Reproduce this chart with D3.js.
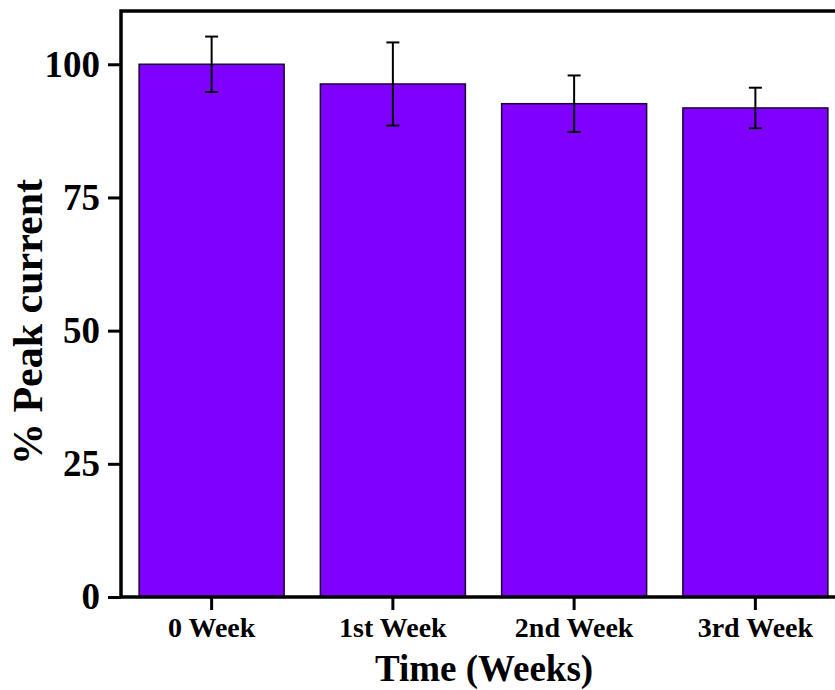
<!DOCTYPE html>
<html>
<head>
<meta charset="utf-8">
<script src="https://cdn.jsdelivr.net/npm/d3@7"></script>
<style>
  body { margin: 0; background: #fff; }
  text { font-family: "Liberation Serif", "Times New Roman", serif; font-weight: bold; fill: #000; }
</style>
</head>
<body>
<div id="chart"></div>
<script>
(function () {

    // DATA
    var weeks = ["0 Week", "1st Week", "2nd Week", "3rd Week"];
    var peak = [100, 96.3, 92.6, 91.8];
    var errs = [5.2, 7.8, 5.3, 3.8];
    var yTicks = [0, 25, 50, 75, 100];

    // DIMENSIONS
    var width = 835, height = 690;
    var margin = { top: 11, left: 121, bottom: 93 };
    var plotRight = 846; // frame's right edge falls outside the picture
    var plotBottom = height - margin.bottom;

    var svg = d3.select("#chart").append("svg")
        .attr("width", width)
        .attr("height", height);

    // SCALES
    var x = d3.scaleBand()
        .domain(weeks)
        .range([margin.left, plotRight])
        .paddingInner(0.2)
        .paddingOuter(0.1);
    var y = d3.scaleLinear().domain([0, 110]).range([plotBottom, margin.top]);

    // BARS
    svg.selectAll("rect.bar")
        .data(weeks)
        .enter().append("rect")
        .attr("class", "bar")
        .attr("x", function (d) { return x(d); })
        .attr("width", x.bandwidth())
        .attr("y", function (d, i) { return y(peak[i]); })
        .attr("height", function (d, i) { return y(0) - y(peak[i]); })
        .attr("fill", "#8000ff")
        .attr("stroke", "#1a0033")
        .attr("stroke-width", 1.5);

    // ERROR BARS
    var eb = svg.selectAll("g.err")
        .data(weeks)
        .enter().append("g")
        .attr("class", "err")
        .attr("stroke", "#000")
        .attr("stroke-width", 2);
    var cx = function (d) { return x(d) + x.bandwidth() / 2; };
    eb.append("line")
        .attr("x1", cx).attr("x2", cx)
        .attr("y1", function (d, i) { return y(peak[i] + errs[i]); })
        .attr("y2", function (d, i) { return y(peak[i] - errs[i]); });
    [1, -1].forEach(function (s) {
        eb.append("line")
            .attr("x1", function (d) { return cx(d) - 6.5; })
            .attr("x2", function (d) { return cx(d) + 6.5; })
            .attr("y1", function (d, i) { return y(peak[i] + s * errs[i]); })
            .attr("y2", function (d, i) { return y(peak[i] + s * errs[i]); });
    });

    // FRAME
    svg.append("rect")
        .attr("x", margin.left)
        .attr("y", margin.top)
        .attr("width", plotRight - margin.left)
        .attr("height", plotBottom - margin.top)
        .attr("fill", "none")
        .attr("stroke", "#000")
        .attr("stroke-width", 3.5);

    // Y AXIS
    var yAxis = svg.append("g")
        .attr("transform", "translate(" + margin.left + ",0)")
        .call(d3.axisLeft(y).tickValues(yTicks).tickSize(13).tickPadding(8));
    yAxis.select(".domain").remove();
    yAxis.selectAll(".tick line").attr("stroke", "#000").attr("stroke-width", 3);
    yAxis.selectAll(".tick text")
        .attr("font-size", 37)
        .attr("font-family", "Liberation Serif")
        .attr("fill", "#000");

    // X AXIS
    var xAxis = svg.append("g")
        .attr("transform", "translate(0," + plotBottom + ")")
        .call(d3.axisBottom(x).tickSize(13).tickPadding(7));
    xAxis.select(".domain").remove();
    xAxis.selectAll(".tick line").attr("stroke", "#000").attr("stroke-width", 3);
    xAxis.selectAll(".tick text")
        .attr("font-size", 28)
        .attr("font-family", "Liberation Serif")
        .attr("fill", "#000");

    // TITLES
    svg.append("text")
        .attr("x", 484)
        .attr("y", 681)
        .attr("text-anchor", "middle")
        .attr("font-size", 37)
        .text("Time (Weeks)");

    svg.append("text")
        .attr("transform", "translate(42," + 322 + ") rotate(-90)")
        .attr("text-anchor", "middle")
        .attr("font-size", 42)
        .text("% Peak current");

})();
</script>
</body>
</html>
